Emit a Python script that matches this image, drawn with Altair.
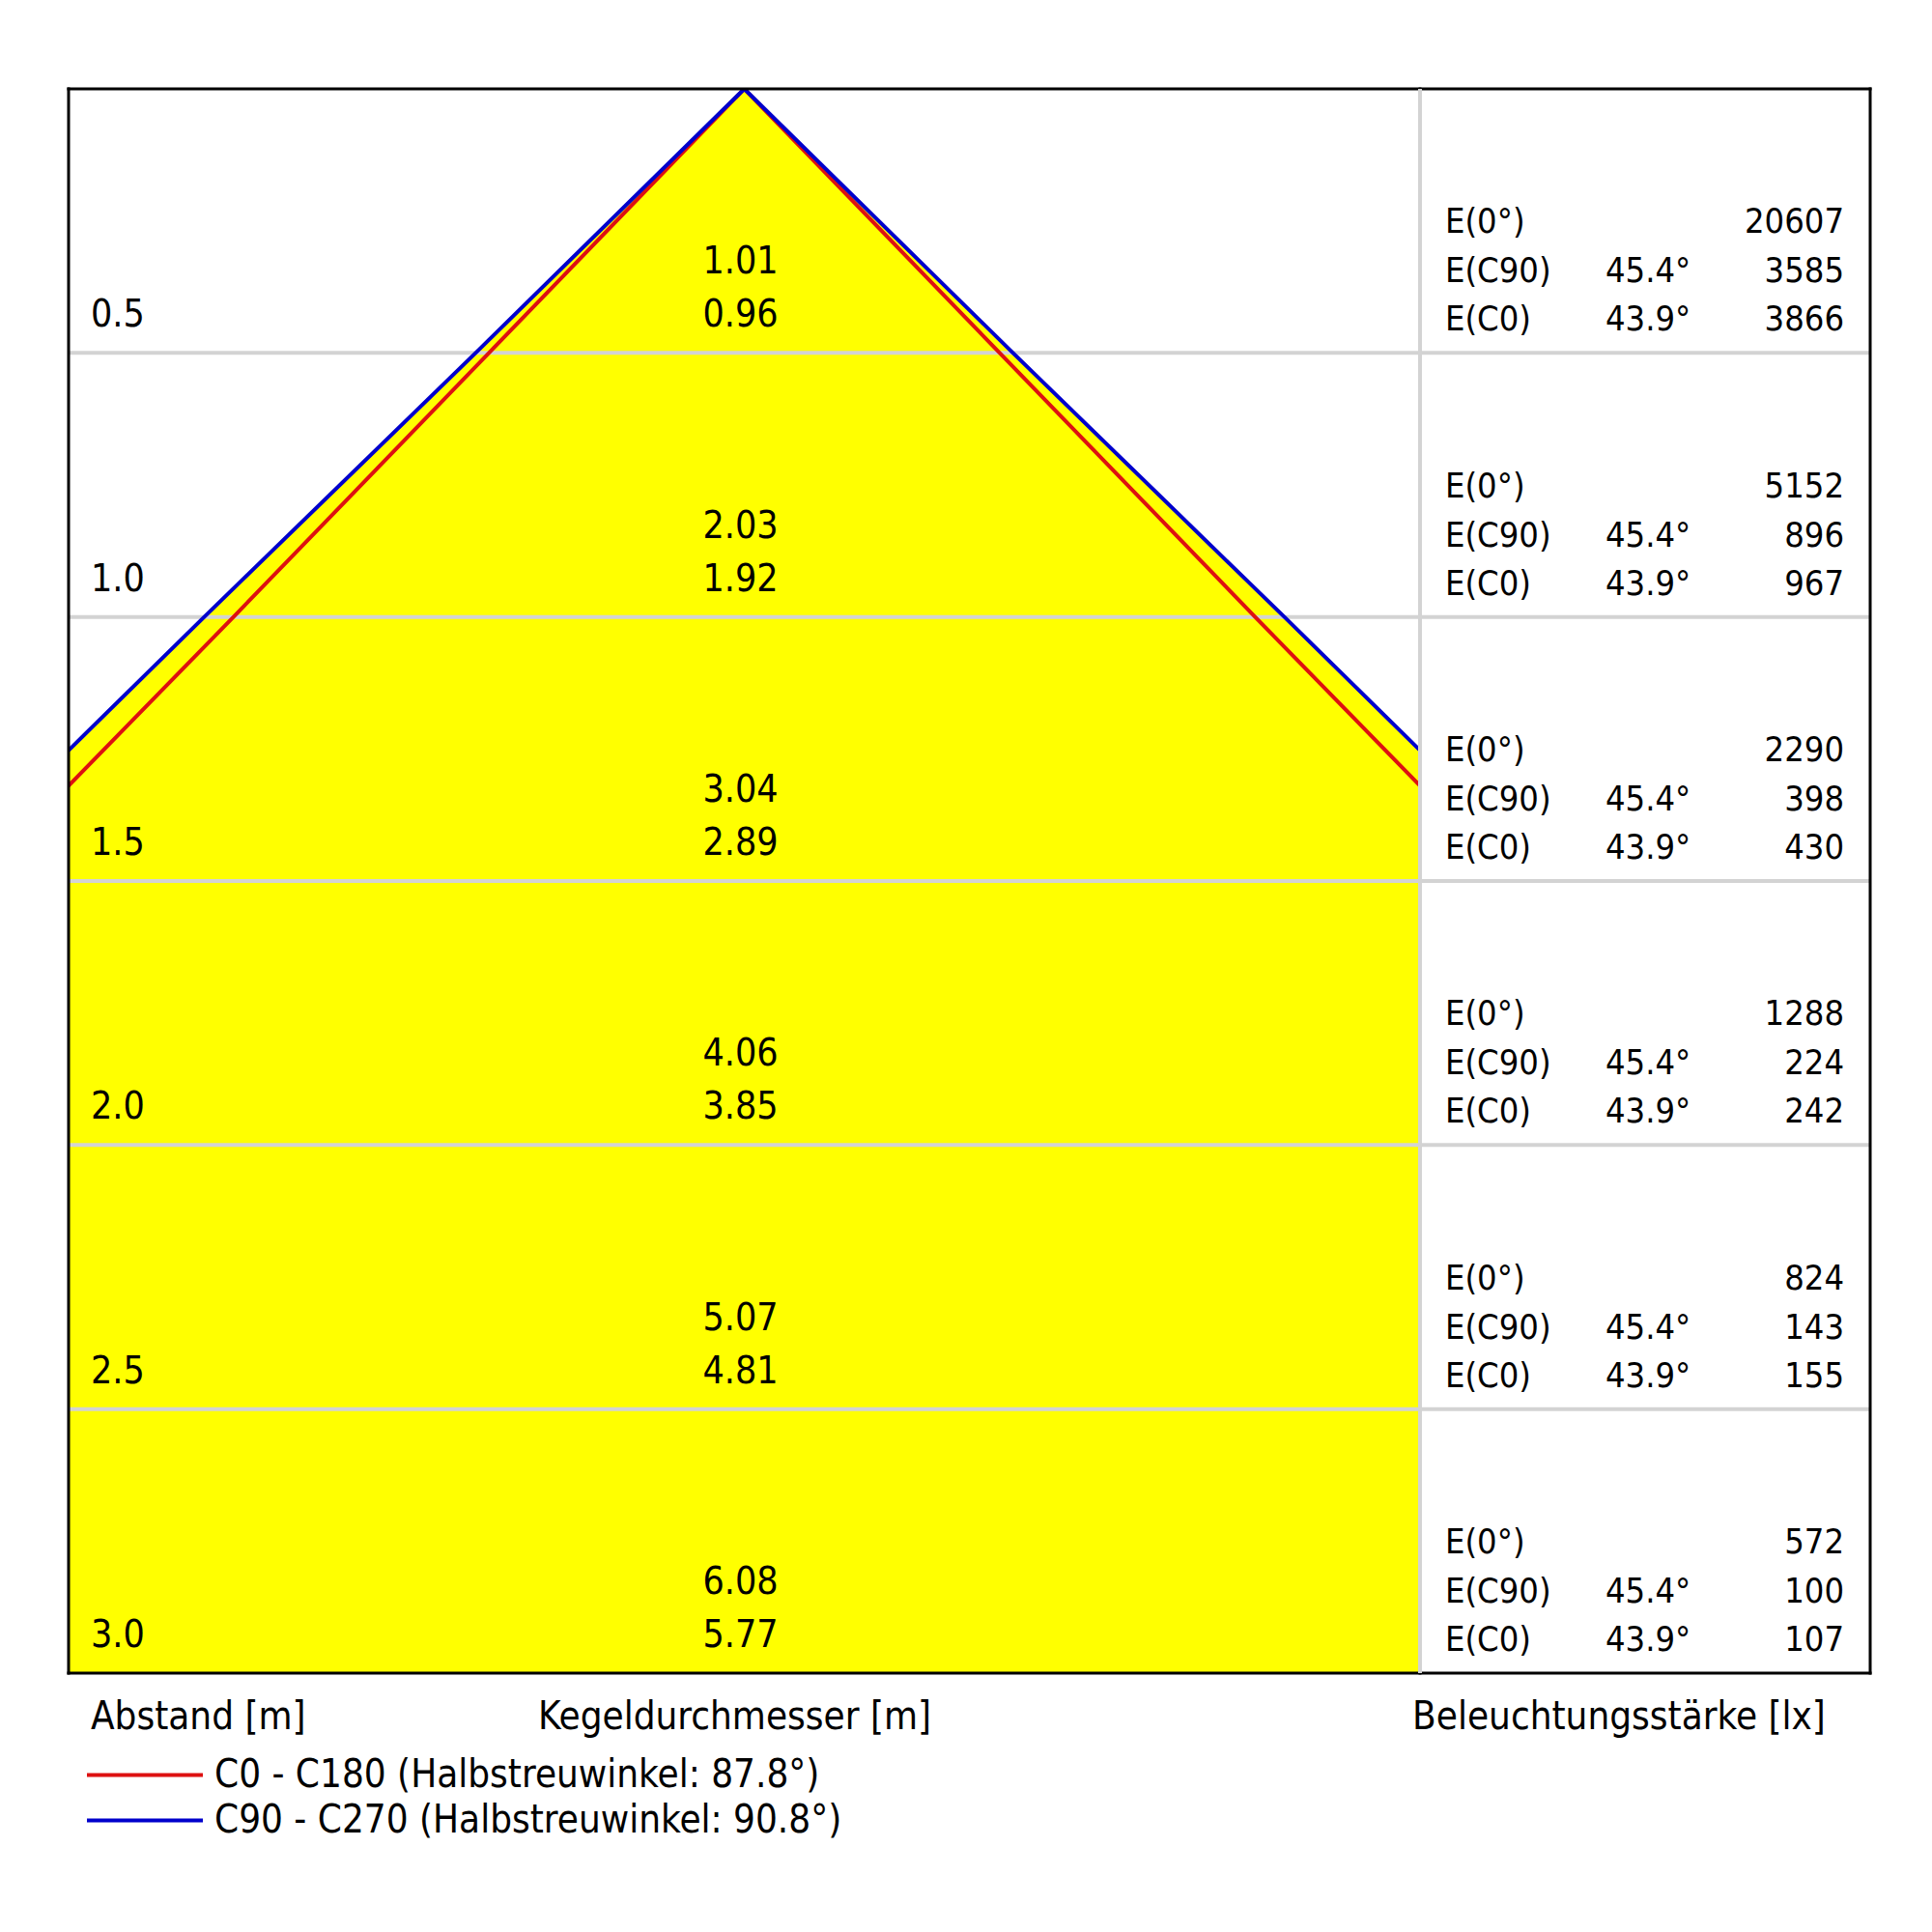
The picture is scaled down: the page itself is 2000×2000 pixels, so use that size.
import altair as alt
import pandas as pd

# ---------------- data ----------------
distances = [0.5, 1.0, 1.5, 2.0, 2.5, 3.0]
diam_c0 = [0.96, 1.92, 2.89, 3.85, 4.81, 5.77]     # C0 - C180
diam_c90 = [1.01, 2.03, 3.04, 4.06, 5.07, 6.08]    # C90 - C270
e_0 = [20607, 5152, 2290, 1288, 824, 572]
e_c90 = [3585, 896, 398, 224, 143, 100]
e_c0 = [3866, 967, 430, 242, 155, 107]
angle_c90 = "45.4°"
angle_c0 = "43.9°"
row_labels = ["E(0°)", "E(C90)", "E(C0)"]
series_labels = ["C0 - C180 (Halbstreuwinkel: 87.8°)", "C90 - C270 (Halbstreuwinkel: 90.8°)"]
series_colors = ["#DD1111", "#0000CC"]
axis_titles = ["Abstand [m]", "Kegeldurchmesser [m]", "Beleuchtungsstärke [lx]"]

FONT = "DejaVu Sans Condensed"
XMAX = 1.27
LEFT_W, RIGHT_W, H = 1399, 466, 1640

# ---------------- tables ----------------
rows = []
for lab, diam in zip(series_labels, [diam_c0, diam_c90]):
    pts = [(-dd / 2, d) for d, dd in zip(distances[::-1], diam[::-1])]
    pts += [(0.0, 0.0)]
    pts += [(dd / 2, d) for d, dd in zip(distances, diam)]
    for i, (x, y) in enumerate(pts):
        rows.append({"series": lab, "x": x, "dist": y, "order": i})
cone = pd.DataFrame(rows)

area_df = pd.DataFrame({
    "dist": [0.0] + distances,
    "lo": [0.0] + [-d / 2 for d in diam_c90],
    "hi": [0.0] + [d / 2 for d in diam_c90],
})

table = pd.DataFrame({
    "dist": distances,
    "dlab": [f"{d:.1f}" for d in distances],
    "d_c0": [f"{v:.2f}" for v in diam_c0],
    "d_c90": [f"{v:.2f}" for v in diam_c90],
    "e0": [str(v) for v in e_0],
    "ec90": [str(v) for v in e_c90],
    "ec0": [str(v) for v in e_c0],
    "l0": [row_labels[0]] * len(distances),
    "l90": [row_labels[1]] * len(distances),
    "lc0": [row_labels[2]] * len(distances),
    "a0": [""] * len(distances),
    "a90": [angle_c90] * len(distances),
    "ac0": [angle_c0] * len(distances),
})

grid_df = pd.DataFrame({"dist": distances[:-1]})
edge_df = pd.DataFrame({"dist": [0.0, 3.0]})

yscale = alt.Scale(domain=[0, 3], reverse=True, nice=False, zero=False)
xscale = alt.Scale(domain=[-XMAX, XMAX], nice=False, zero=False)
Y = alt.Y("dist:Q", scale=yscale, axis=None)

def txt(**kw):
    base = dict(font=FONT, color="black", baseline="middle")
    base.update(kw)
    return base

# ---------------- left panel ----------------
area = alt.Chart(area_df).mark_area(orient="horizontal", color="#FFFF00", clip=True).encode(
    y=Y, x=alt.X("lo:Q", scale=xscale, axis=None), x2="hi:Q"
)
grid_l = alt.Chart(grid_df).mark_rule(color="#D3D3D3", strokeWidth=4).encode(y=Y)
lines = alt.Chart(cone).mark_line(strokeWidth=4, clip=True).encode(
    x=alt.X("x:Q", scale=xscale, axis=None),
    y=Y,
    order="order:Q",
    color=alt.Color(
        "series:N",
        scale=alt.Scale(domain=series_labels, range=series_colors),
        legend=alt.Legend(
            title=None, orient="none", legendX=17, legendY=1722,
            symbolType="stroke", symbolSize=14400, symbolStrokeWidth=4,
            clipHeight=47, rowPadding=0, padding=0, labelOffset=10,
            labelFont=FONT, labelFontSize=40, labelColor="black", labelLimit=2000,
        ),
    ),
)
border_h_l = alt.Chart(edge_df).mark_rule(color="black", strokeWidth=3, strokeCap="square").encode(y=Y)
border_v_l = alt.Chart(pd.DataFrame({"xb": [-XMAX]})).mark_rule(
    color="black", strokeWidth=3, strokeCap="square"
).encode(x=alt.X("xb:Q", scale=xscale, axis=None))

dist_lab = alt.Chart(table).mark_text(**txt(align="left", dx=23, dy=-39, fontSize=39)).encode(
    x=alt.datum(-XMAX), y=Y, text="dlab:N"
)
c0_lab = alt.Chart(table).mark_text(**txt(align="center", dx=-4, dy=-39, fontSize=39)).encode(
    x=alt.datum(0.0), y=Y, text="d_c0:N"
)
c90_lab = alt.Chart(table).mark_text(**txt(align="center", dx=-4, dy=-94, fontSize=39)).encode(
    x=alt.datum(0.0), y=Y, text="d_c90:N"
)
t_abst = alt.Chart(pd.DataFrame({"t": [axis_titles[0]]})).mark_text(
    **txt(align="left", dx=23, dy=46, fontSize=40)
).encode(x=alt.datum(-XMAX), y=alt.datum(3.0), text="t:N")
t_kegel = alt.Chart(pd.DataFrame({"t": [axis_titles[1]]})).mark_text(
    **txt(align="center", dx=-10, dy=46, fontSize=40)
).encode(x=alt.datum(0.0), y=alt.datum(3.0), text="t:N")

left = alt.layer(
    area, grid_l, lines, border_h_l, border_v_l, dist_lab, c0_lab, c90_lab, t_abst, t_kegel
).properties(width=LEFT_W, height=H)

# ---------------- right panel ----------------
grid_r = alt.Chart(grid_df).mark_rule(color="#D3D3D3", strokeWidth=4).encode(y=Y)
border_h_r = alt.Chart(edge_df).mark_rule(color="black", strokeWidth=3, strokeCap="square").encode(y=Y)
border_v_r = alt.Chart(pd.DataFrame({"k": [1]})).mark_rule(
    color="black", strokeWidth=3, strokeCap="square"
).encode(x=alt.value(RIGHT_W))
divider = alt.Chart(pd.DataFrame({"k": [1]})).mark_rule(color="#D3D3D3", strokeWidth=4).encode(
    x=alt.value(0)
)

right_layers = [grid_r, border_h_r, border_v_r, divider]
for lab_f, ang_f, val_f, dy in [("l0", "a0", "e0", -135), ("l90", "a90", "ec90", -84), ("lc0", "ac0", "ec0", -34)]:
    right_layers.append(alt.Chart(table).mark_text(**txt(align="left", dy=dy, fontSize=36)).encode(
        x=alt.value(26), y=Y, text=f"{lab_f}:N"))
    right_layers.append(alt.Chart(table).mark_text(**txt(align="left", dy=dy, fontSize=36)).encode(
        x=alt.value(192), y=Y, text=f"{ang_f}:N"))
    right_layers.append(alt.Chart(table).mark_text(**txt(align="right", dy=dy, fontSize=36)).encode(
        x=alt.value(439), y=Y, text=f"{val_f}:N"))
t_bel = alt.Chart(pd.DataFrame({"t": [axis_titles[2]]})).mark_text(
    **txt(align="center", dy=46, fontSize=40)
).encode(x=alt.value(206), y=alt.datum(3.0), text="t:N")
right_layers.append(t_bel)

right = alt.layer(*right_layers).properties(width=RIGHT_W, height=H)

chart = alt.hconcat(left, right, spacing=0, bounds="flush").properties(
    padding={"left": 60, "top": 81, "right": 10, "bottom": 10},
    background="white",
).configure_view(strokeWidth=0)

chart.save("out.html", embed_options={"renderer": "svg", "actions": False})
